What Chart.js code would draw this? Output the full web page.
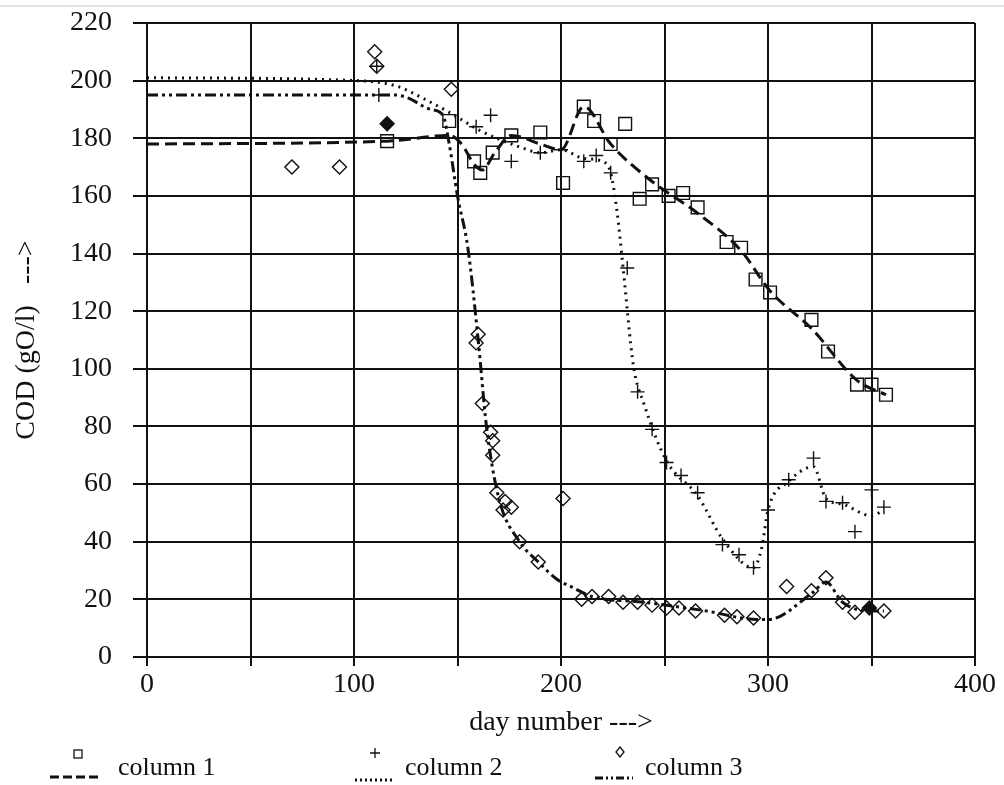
<!DOCTYPE html>
<html lang="en">
<head>
    <meta charset="utf-8" />
    <title>COD by day</title>
    <script src="https://cdn.jsdelivr.net/npm/chart.js"></script>
    <style>
        html, body { margin: 0; padding: 0; background: #fff; }
        #wrap { position: relative; width: 1004px; height: 785px; }
        #scanline { position: absolute; left: 0; top: 5px; width: 1004px; height: 2px; background: #e2e2e2; }
        .leg { position: absolute; top: 740px; height: 45px; font-family: "Liberation Serif", serif; font-size: 26px; color: #111; }
        .leg svg { position: absolute; left: 0; top: 0; }
        .leg span { position: absolute; top: 12px; white-space: nowrap; }
    </style>
</head>
<body>
<div id="wrap">
    <div id="scanline"></div>
    <canvas id="codChart" width="1004" height="785"></canvas>

    <div class="leg" style="left:48px;width:200px">
        <svg width="60" height="45"><rect x="26" y="10" width="8" height="8" fill="none" stroke="#111" stroke-width="1.3"/><line x1="2" y1="37" x2="54" y2="37" stroke="#111" stroke-width="3" stroke-dasharray="9,4"/></svg>
        <span style="left:70px">column 1</span>
    </div>
    <div class="leg" style="left:353px;width:200px">
        <svg width="50" height="45"><path d="M22 8 V18 M17 13 H27" stroke="#111" stroke-width="1.3"/><line x1="2" y1="40" x2="40" y2="40" stroke="#111" stroke-width="3" stroke-dasharray="2,3"/></svg>
        <span style="left:52px">column 2</span>
    </div>
    <div class="leg" style="left:593px;width:200px">
        <svg width="50" height="45"><path d="M27 7 L31 12 L27 17 L23 12 Z" fill="none" stroke="#111" stroke-width="1.3"/><line x1="2" y1="38" x2="40" y2="38" stroke="#111" stroke-width="3" stroke-dasharray="8,3,2,3,2,3"/></svg>
        <span style="left:52px">column 3</span>
    </div>
</div>

<script>
    // measured points (day number, COD)
    const col1Days = [116, 146, 158, 161, 167, 176, 190, 201, 211, 216, 224, 231, 238, 244, 252, 259, 266, 280, 287, 294, 301, 321, 329, 343, 350, 357];
    const col1Cod  = [179, 186, 172, 168, 175, 181, 182, 164.5, 191, 186, 178, 185, 159, 164, 160, 161, 156, 144, 142, 131, 126.5, 117, 106, 94.5, 94.5, 91];

    const col2Days = [111, 112, 159, 166, 176, 190, 200, 211, 217, 224, 232, 237, 244, 251, 258, 266, 278, 286, 293, 300, 310, 322, 328, 336, 342, 350, 356];
    const col2Cod  = [205, 195, 184, 188, 172, 175, 176, 172, 174, 168, 135, 92, 79, 67.5, 63, 57, 39, 35.5, 31, 51, 61.5, 69, 54, 53.5, 43.5, 58, 52];

    const col3Days = [70, 93, 110, 111, 116, 147, 160, 159, 162, 166, 167, 167, 169, 172, 173, 176, 180, 189, 201, 210, 215, 223, 230, 237, 244, 251, 257, 265, 279, 285, 293, 309, 321, 328, 336, 342, 349, 356];
    const col3Cod  = [170, 170, 210, 205, 185, 197, 112, 109, 88, 78, 75, 70, 57, 51, 54, 52, 40, 33, 55, 20, 21, 21, 19, 19, 18, 17, 17, 16, 14.5, 14, 13.5, 24.5, 23, 27.5, 19, 15.5, 17, 16];
    const col3Filled = [116, 349];

    // fitted curves
    const fit1Days = [0, 116, 146, 152, 158, 162, 168, 176, 190, 200, 211, 224, 244, 266, 287, 301, 321, 343, 357];
    const fit1Cod  = [178, 179, 181, 178, 171, 169, 175, 181, 178, 176, 191, 178, 165, 154, 141, 127, 114, 96, 91];

    const fit2Days = [0, 102, 121, 133, 146, 153, 160, 169, 180, 190, 200, 211, 220, 224, 227, 230, 235, 240, 251, 266, 278, 293, 297, 300, 310, 322, 328, 336, 350, 356];
    const fit2Cod  = [201, 200, 198, 194, 189, 186, 183, 180, 177, 175, 176, 173, 172, 168, 155, 135, 101, 88, 68, 56, 41, 31, 38, 51, 61, 66, 55, 53, 49, 51];

    const fit3Days = [0, 120, 126, 137, 143, 146, 150, 155, 160, 164, 170, 180, 189, 198, 206, 215, 240, 270, 295, 300, 321, 328, 336, 349, 356];
    const fit3Cod  = [195, 195, 194, 190, 188, 178, 160, 142, 110, 80, 55, 40, 33, 27, 24, 21, 19, 16, 13, 13, 22, 26, 19, 16, 16];

    const xTicks = [0, 100, 200, 300, 400];

    const pts = (xs, ys) => xs.map((x, i) => ({ x: x, y: ys[i] }));
    const ink = '#111';
    const serif = '"Liberation Serif", "DejaVu Serif", serif';

    function fitLine(xs, ys, dash, width) {
        return {
            data: pts(xs, ys),
            showLine: true,
            borderColor: ink,
            borderWidth: width,
            borderDash: dash,
            pointRadius: 0,
            cubicInterpolationMode: 'monotone',
            order: 2
        };
    }

    function marks(xs, ys, style, radius) {
        return {
            data: pts(xs, ys),
            showLine: false,
            pointStyle: style,
            pointRadius: radius,
            borderColor: ink,
            borderWidth: 1.4,
            backgroundColor: 'rgba(0,0,0,0)',
            order: 1
        };
    }

    const set3 = marks(col3Days, col3Cod, 'rectRot', 7);
    set3.backgroundColor = c => (c.raw && col3Filled.includes(c.raw.x)) ? ink : 'rgba(0,0,0,0)';

    new Chart(document.getElementById('codChart'), {
        type: 'scatter',
        data: {
            datasets: [
                fitLine(fit1Days, fit1Cod, [12, 6], 3),
                fitLine(fit2Days, fit2Cod, [2, 5], 3),
                fitLine(fit3Days, fit3Cod, [11, 4, 3, 4, 3, 4], 3),
                marks(col1Days, col1Cod, 'rect', 9),
                marks(col2Days, col2Cod, 'cross', 7),
                set3
            ]
        },
        options: {
            responsive: false,
            animation: false,
            layout: { padding: { left: 0, top: 23, right: 29, bottom: 40 } },
            plugins: { legend: { display: false }, tooltip: { enabled: false } },
            scales: {
                x: {
                    type: 'linear',
                    min: 0,
                    max: 400,
                    afterFit: s => { s.height = 88; },
                    ticks: {
                        stepSize: 50,
                        color: ink,
                        padding: 2,
                        font: { family: serif, size: 28 },
                        callback: v => xTicks.includes(v) ? String(v) : ''
                    },
                    grid: { color: ink, lineWidth: 2, tickLength: 9 },
                    border: { color: ink, width: 2 },
                    title: {
                        display: true,
                        text: 'day number --->',
                        color: ink,
                        font: { family: serif, size: 28 },
                        padding: { top: 6, bottom: 6 }
                    }
                },
                y: {
                    min: 0,
                    max: 220,
                    afterFit: s => { s.width = 147; s.paddingTop = 0; s.paddingBottom = 0; },
                    ticks: {
                        stepSize: 20,
                        color: ink,
                        padding: 21,
                        font: { family: serif, size: 28 }
                    },
                    grid: { color: ink, lineWidth: 2, tickLength: 14 },
                    border: { color: ink, width: 2 },
                    title: {
                        display: true,
                        text: 'COD (gO/l)   --->',
                        color: ink,
                        font: { family: serif, size: 28 },
                        padding: { top: 10, bottom: 10 }
                    }
                }
            }
        }
    });
</script>
</body>
</html>
